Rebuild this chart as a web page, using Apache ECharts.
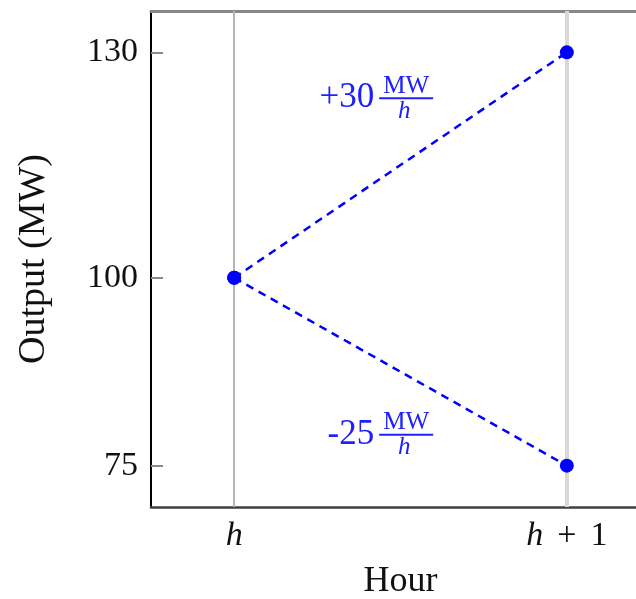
<!DOCTYPE html>
<html>
<head>
<meta charset="utf-8">
<script src="https://cdn.jsdelivr.net/npm/echarts@6/dist/echarts.min.js"></script>
<style>html,body{margin:0;padding:0;background:#fff}#c{width:636px;height:599px}</style>
</head>
<body>
<div id="c"></div>
<script>
// ---- data ----
const xTicks = [0, 1];
const xTickLabels = ['{i|h}', '{i|h}{s| }+{s| }1'];
const yTicks = [75, 100, 130];
const upSeries = [[0, 100], [1, 130]];
const downSeries = [[0, 100], [1, 75]];
const gridX = [0, 1];
const annoPos = [[0.517, 123.9], [0.517, 79.1]];
const annoNum = ['+30', '-25'];
const annoFracTop = 'MW';
const annoFracBot = 'h';
const xRange = [-0.25, 1.25];
const yRange = [69.5, 135.5];

const BLUE = '#0000ff';
const TXTBLUE = '#2020ff';
const SERIF = '"Liberation Serif", "DejaVu Serif", serif';

const chart = echarts.init(document.getElementById('c'), null, {renderer: 'canvas'});

const tickStyle = {show: true, inside: true, length: 12, lineStyle: {color: '#8a8a8a', width: 2}};

const option = {
  animation: false,
  backgroundColor: '#fff',
  grid: {left: 151, top: 11, width: 499, height: 496, show: false, containLabel: false, outerBoundsMode: 'none'},
  xAxis: [{
    type: 'value', min: xRange[0], max: xRange[1], position: 'bottom',
    axisLine: {show: true, onZero: false, lineStyle: {color: '#404040', width: 2.5}},
    axisTick: Object.assign({customValues: xTicks}, tickStyle),
    axisLabel: {
      customValues: xTicks, margin: 12,
      formatter: v => xTickLabels[xTicks.indexOf(v)],
      fontFamily: SERIF, fontSize: 34, color: '#111',
      rich: {
        i: {fontFamily: SERIF, fontSize: 34, fontStyle: 'italic', color: '#111'},
        s: {fontFamily: SERIF, fontSize: 34, width: 14, color: '#111'}
      }
    },
    splitLine: {show: false},
    name: 'Hour', nameLocation: 'middle', nameGap: 57,
    nameTextStyle: {fontFamily: SERIF, fontSize: 36, color: '#111'}
  }, {
    type: 'value', min: xRange[0], max: xRange[1], position: 'top',
    axisLine: {show: true, onZero: false, lineStyle: {color: '#888', width: 3}},
    axisTick: Object.assign({customValues: xTicks}, tickStyle),
    axisLabel: {show: false}, splitLine: {show: false}
  }],
  yAxis: [{
    type: 'value', min: yRange[0], max: yRange[1], position: 'left',
    axisLine: {show: true, onZero: false, lineStyle: {color: '#000', width: 2}},
    axisTick: Object.assign({customValues: yTicks}, tickStyle),
    axisLabel: {customValues: yTicks, margin: 13, fontFamily: SERIF, fontSize: 34, color: '#111'},
    splitLine: {show: false},
    name: 'Output (MW)', nameLocation: 'middle', nameGap: 98,
    nameTextStyle: {fontFamily: SERIF, fontSize: 38, color: '#111'}
  }, {
    type: 'value', min: yRange[0], max: yRange[1], position: 'right',
    axisLine: {show: true, onZero: false, lineStyle: {color: '#404040', width: 2}},
    axisTick: Object.assign({customValues: yTicks}, tickStyle),
    axisLabel: {show: false}, splitLine: {show: false}
  }],
  series: [
    {
      type: 'line', data: upSeries, xAxisIndex: 0, yAxisIndex: 0,
      symbol: 'circle', symbolSize: 14,
      lineStyle: {color: BLUE, width: 2.5, type: [8, 6]},
      itemStyle: {color: BLUE}, z: 5,
      markLine: {
        silent: true, symbol: 'none', label: {show: false}, z: 1,
        data: [
          {xAxis: gridX[0], lineStyle: {color: '#b4b4b4', width: 2, type: 'solid'}},
          {xAxis: gridX[1], lineStyle: {color: '#d8d8d8', width: 4, type: 'solid'}}
        ]
      }
    },
    {
      type: 'line', data: downSeries, xAxisIndex: 0, yAxisIndex: 0,
      symbol: 'circle', symbolSize: 14,
      lineStyle: {color: BLUE, width: 2.5, type: [8, 6]},
      itemStyle: {color: BLUE}, z: 5
    },
    {
      type: 'custom', xAxisIndex: 0, yAxisIndex: 0, data: annoPos, z: 6,
      renderItem: function (params, api) {
        const p = api.coord([api.value(0), api.value(1)]);
        const i = params.dataIndex;
        return {
          type: 'group', x: p[0], y: p[1],
          children: [
            {type: 'text', x: -32, y: 0, style: {text: annoNum[i], fill: TXTBLUE, font: '35px ' + SERIF, align: 'right', verticalAlign: 'middle'}},
            {type: 'text', x: 0, y: -12, style: {text: annoFracTop, fill: TXTBLUE, font: '25px ' + SERIF, align: 'center', verticalAlign: 'middle'}},
            {type: 'rect', shape: {x: -27, y: -1, width: 54, height: 2}, style: {fill: TXTBLUE}},
            {type: 'text', x: -2, y: 13, style: {text: annoFracBot, fill: TXTBLUE, font: 'italic 25px ' + SERIF, align: 'center', verticalAlign: 'middle'}}
          ]
        };
      }
    }
  ]
};
chart.setOption(option);
</script>
</body>
</html>
